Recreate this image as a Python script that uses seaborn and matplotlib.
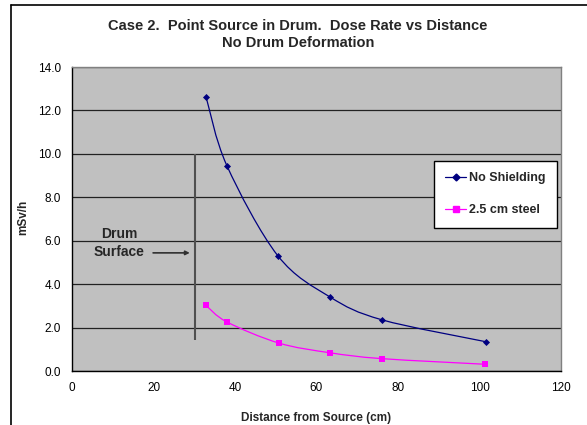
"""
Case 2 dose rate chart: point source in drum, no deformation.
"""

import numpy as np
import pandas as pd
import matplotlib
matplotlib.use("Agg")
import matplotlib.pyplot as plt
from matplotlib.path import Path
from matplotlib.patches import PathPatch
from matplotlib.lines import Line2D
import seaborn as sns

# distances (cm) and dose rates (mSv/h)
dist_unshielded = [32.9, 38.0, 50.5, 63.3, 76.0, 101.5]
dose_unshielded = [12.62, 9.46, 5.31, 3.41, 2.36, 1.35]

dist_steel = [32.9, 38.0, 50.7, 63.3, 76.0, 101.4]
dose_steel = [3.02, 2.26, 1.29, 0.84, 0.57, 0.31]

series_names = ["No Shielding", "2.5 cm steel"]
series_colors = ["#000080", "#FF00FF"]
series_markers = ["D", "s"]

drum_surface_x = 30.2
drum_surface_span = (1.45, 10.0)

x_ticks = [0, 20, 40, 60, 80, 100, 120]
y_ticks = [0, 2, 4, 6, 8, 10, 12, 14]


def smooth_path(xs, ys):
    """Excel-style smoothed line: cubic Bezier through each point."""
    pts = np.column_stack([xs, ys])
    n = len(pts)
    verts = [pts[0]]
    codes = [Path.MOVETO]
    for i in range(n - 1):
        p_prev = pts[max(i - 1, 0)]
        p0 = pts[i]
        p1 = pts[i + 1]
        p_next = pts[min(i + 2, n - 1)]
        c1 = p0 + (p1 - p_prev) / 6.0
        c2 = p1 - (p_next - p0) / 6.0
        verts += [c1, c2, p1]
        codes += [Path.CURVE4] * 3
    return Path(verts, codes)


sns.set_style("white")
plt.rcParams["font.family"] = ["Liberation Sans", "DejaVu Sans"]

df = pd.concat([
    pd.DataFrame({"dist": dist_unshielded, "dose": dose_unshielded, "series": series_names[0]}),
    pd.DataFrame({"dist": dist_steel, "dose": dose_steel, "series": series_names[1]}),
])

fig = plt.figure(figsize=(5.87, 4.25), dpi=100)
ax = fig.add_axes([72 / 587, 1 - 371 / 425, 489 / 587, 304 / 425])
ax.set_facecolor("#C0C0C0")

for name, color, marker in zip(series_names, series_colors, series_markers):
    sub = df[df["series"] == name]
    ax.add_patch(PathPatch(smooth_path(sub["dist"].values, sub["dose"].values),
                           facecolor="none", edgecolor=color, lw=0.9, zorder=3))
    sns.scatterplot(data=sub, x="dist", y="dose", marker=marker, color=color,
                    s=13 if marker == "D" else 15, edgecolor=color, linewidth=0,
                    ax=ax, zorder=4, legend=False)

# drum surface marker line and label
ax.vlines(drum_surface_x, *drum_surface_span, color="#505050", lw=1.5, zorder=2)
ax.text(11.6, 6.31, "Drum", ha="center", va="center", fontsize=10, fontweight="bold")
ax.text(11.6, 5.48, "Surface", ha="center", va="center", fontsize=10, fontweight="bold")
ax.annotate("", xy=(28.9, 5.44), xytext=(19.9, 5.44),
            arrowprops=dict(arrowstyle="-|>", color="#303030", lw=1.2,
                            mutation_scale=6, shrinkA=0, shrinkB=0))

ax.set_xlim(0, 120)
ax.set_ylim(0, 14)
ax.set_xticks(x_ticks)
ax.set_yticks(y_ticks)
ax.set_yticklabels([f"{v:.1f}" for v in y_ticks])
ax.tick_params(direction="out", length=4, width=1, colors="black",
               labelsize=8.5, pad=4)
ax.grid(axis="y", color="#222222", lw=0.9)
ax.set_axisbelow(True)
for side in ["top", "right"]:
    ax.spines[side].set_color("#808080")
    ax.spines[side].set_linewidth(1)
for side in ["left", "bottom"]:
    ax.spines[side].set_color("black")
    ax.spines[side].set_linewidth(1)

ax.set_xlabel("Distance from Source (cm)", fontsize=8.5, fontweight="bold", labelpad=13)
ax.set_ylabel("")
fig.text(23 / 587, 1 - 217 / 425, "mSv/h", rotation=90, ha="center", va="center",
         fontsize=8.5, fontweight="bold")

fig.text(298 / 587, 1 - 26 / 425, "Case 2.  Point Source in Drum.  Dose Rate vs Distance",
         ha="center", va="center", fontsize=10.5, fontweight="bold")
fig.text(298 / 587, 1 - 43 / 425, "No Drum Deformation",
         ha="center", va="center", fontsize=10.5, fontweight="bold")

handles = [Line2D([0], [0], color=c, marker=m, markersize=3.5 if m == "D" else 4, lw=0.9)
           for c, m in zip(series_colors, series_markers)]
leg = ax.legend(handles, series_names, loc="upper right",
                bbox_to_anchor=(557 / 587, 1 - 161 / 425), bbox_transform=fig.transFigure,
                frameon=True, fancybox=False, framealpha=1, edgecolor="black",
                prop={"size": 9, "weight": "bold"}, labelspacing=1.6,
                handlelength=1.7, handletextpad=0.25, borderpad=0.9, borderaxespad=0)
leg.get_frame().set_linewidth(1)

# chart-area border (only top and left fall inside the image)
fig.add_artist(Line2D([11 / 587, 11 / 587], [0, 1 - 5 / 425], color="black", lw=1.2,
                      transform=fig.transFigure))
fig.add_artist(Line2D([11 / 587, 1], [1 - 5 / 425, 1 - 5 / 425], color="black", lw=1.2,
                      transform=fig.transFigure))

fig.savefig("out.png", dpi=100)
